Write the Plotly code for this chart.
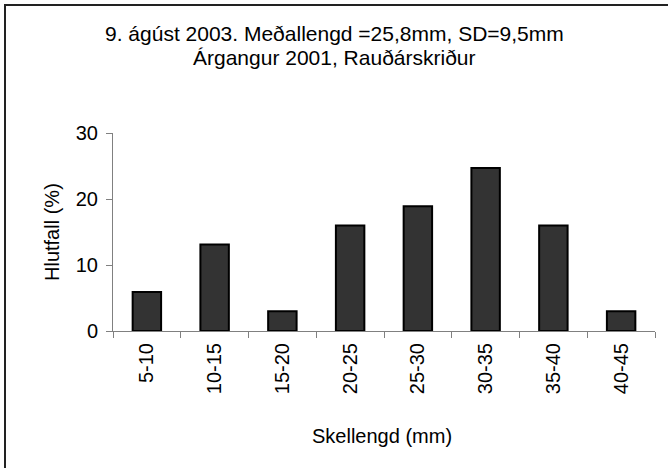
import plotly.graph_objects as go

# Length-class distribution of the 2001 year class
categories = ["5-10", "10-15", "15-20", "20-25", "25-30", "30-35", "35-40", "40-45"]
percent = [5.9, 13.1, 3.0, 16.0, 18.9, 24.7, 16.0, 3.0]
y_ticks = [0, 10, 20, 30]

title_line1 = "9. ágúst 2003. Meðallengd =25,8mm, SD=9,5mm"
title_line2 = "Árgangur 2001, Rauðárskriður"
x_title = "Skellengd (mm)"
y_title = "Hlutfall (%)"

W, H = 668, 468
L, R, T, B = 113, 13, 133, 137
PW, PH = W - L - R, H - T - B
FONT = "Liberation Sans, Arial, sans-serif"


def px(x):
    return (x - L) / PW


def py(y):
    return (H - B - y) / PH


fig = go.Figure(
    go.Bar(
        x=categories,
        y=percent,
        marker=dict(color="#333333", line=dict(color="#000000", width=2)),
        width=0.42,
    )
)

fig.update_layout(
    width=W,
    height=H,
    margin=dict(l=L, r=R, t=T, b=B),
    paper_bgcolor="white",
    plot_bgcolor="white",
    showlegend=False,
    font=dict(family=FONT, size=20, color="black"),
)

fig.update_xaxes(
    type="category",
    showline=True,
    linecolor="#808080",
    linewidth=1,
    ticks="outside",
    tickson="boundaries",
    ticklen=6,
    tickcolor="#808080",
    tickangle=-90,
    tickfont=dict(size=20),
    ticklabelstandoff=3,
    showgrid=False,
    range=[-0.5, len(categories) - 0.5],
)

fig.update_yaxes(
    range=[0, 30],
    tickvals=y_ticks,
    showline=True,
    linecolor="#808080",
    linewidth=1,
    ticks="outside",
    ticklen=6,
    tickcolor="#808080",
    tickfont=dict(size=20),
    ticklabelstandoff=4,
    showgrid=False,
    zeroline=False,
)

annotations = [
    dict(text=title_line1, x=px(334), y=py(33), font=dict(size=21)),
    dict(text=title_line2, x=px(334), y=py(57), font=dict(size=21)),
    dict(text=x_title, x=px(382), y=py(436), font=dict(size=20)),
    dict(text=y_title, x=px(52), y=py(232), textangle=-90, font=dict(size=20)),
]
for a in annotations:
    fig.add_annotation(
        xref="paper", yref="paper", showarrow=False,
        xanchor="center", yanchor="middle", **a
    )

# Chart frame (right and bottom edges fall outside the page)
fig.add_shape(
    type="rect", xref="paper", yref="paper",
    x0=px(5), x1=px(W + 3), y0=py(5), y1=py(H + 3),
    line=dict(color="#222222", width=2), fillcolor="rgba(0,0,0,0)",
    layer="above",
)

fig.write_html("out.html")
